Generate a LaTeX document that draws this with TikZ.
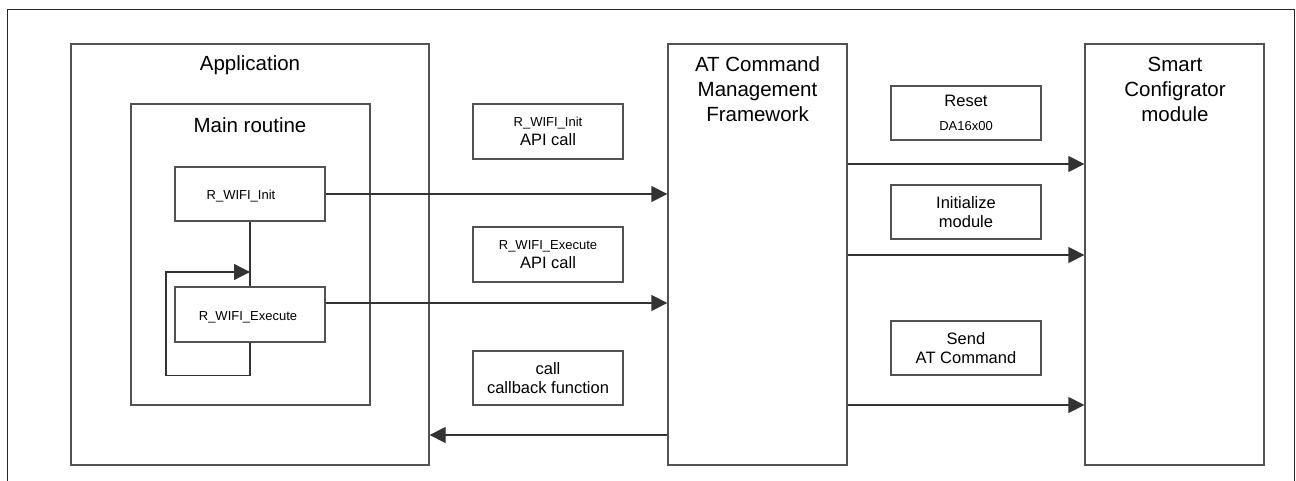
\documentclass[tikz,border=0pt]{standalone}
\usepackage{fontspec}
\setmainfont{Liberation Sans}
\usetikzlibrary{arrows.meta}

\begin{document}
\begin{tikzpicture}[x=1pt,y=-1pt,
  blk/.style={draw=black!68, line width=1.3pt, rectangle, inner sep=0pt},
  title/.style={align=center, inner sep=0pt, font=\fontsize{20.5}{25}\selectfont},
  lbl/.style={align=center, inner sep=0pt, font=\fontsize{16.5}{19.5}\selectfont},
  small/.style={inner sep=0pt, font=\fontsize{13}{15}\selectfont},
  wire/.style={draw=black!80, line width=1.3pt},
  arr/.style={wire, -{Triangle[length=16pt,width=16pt]}}
]
\useasboundingbox (0,0) rectangle (1296,481);

% page frame (open at the bottom)
\draw[black!85, line width=1pt] (7,481) -- (7,10) -- (1294,10) -- (1294,481);

% application side
\node[blk, minimum width=358pt, minimum height=421pt] (app) at (250,254.5) {};
\node[title] (apptitle) at (250,65) {Application};
\node[blk, minimum width=239pt, minimum height=301pt] (main) at (250.5,254.5) {};
\node[title] (maintitle) at (250,125) {Main routine};
\node[blk, minimum width=150pt, minimum height=54pt] (init) at (250,194) {};
\node[small] (inittext) at (241,196) {R\_WIFI\_Init};
\node[blk, minimum width=150pt, minimum height=55pt] (exec) at (250,314.5) {};
\node[small] (exectext) at (248,317) {R\_WIFI\_Execute};

% framework and module
\node[blk, minimum width=179pt, minimum height=421pt] (atf) at (757.5,254.5) {};
\node[title] (atftitle) at (757.5,89.5) {AT Command\\Management\\Framework};
\node[blk, minimum width=179pt, minimum height=421pt] (smart) at (1174.5,254.5) {};
\node[title] (smarttitle) at (1175,89.5) {Smart\\Configrator\\module};

% call labels
\node[blk, lbl, minimum width=150pt, minimum height=55pt] (l1) at (548,131.5)
  {{\fontsize{13}{15}\selectfont R\_WIFI\_Init}\\API call};
\node[blk, lbl, minimum width=150pt, minimum height=55pt] (l2) at (548,254.5)
  {{\fontsize{13}{15}\selectfont R\_WIFI\_Execute}\\API call};
\node[blk, lbl, minimum width=150pt, minimum height=54pt] (l3) at (548,378)
  {call\\callback function};
\node[blk, lbl, minimum width=150pt, minimum height=54pt] (r1) at (966,113)
  {Reset\\[5pt]{\fontsize{13}{15}\selectfont DA16x00}};
\node[blk, lbl, minimum width=150pt, minimum height=54pt] (r2) at (966,212)
  {Initialize\\module};
\node[blk, lbl, minimum width=150pt, minimum height=54pt] (r3) at (966,348)
  {Send\\AT Command};

% main routine flow
\draw[wire] (init.south) -- (exec.north);
\draw[arr] (exec.south) -- ++(0,33) -| (166,272) -- (exec.north |- 0,272);

% API calls into the framework
\draw[arr] (init.east) -- (atf.west |- init.east);
\draw[arr] (exec.east |- 0,303) -- (atf.west |- 0,303);
\draw[arr] (atf.west |- 0,435) -- (app.east |- 0,435);

% framework to module
\draw[arr] (atf.east |- 0,164) -- (smart.west |- 0,164);
\draw[arr] (atf.east |- 0,255) -- (smart.west |- 0,255);
\draw[arr] (atf.east |- 0,405) -- (smart.west |- 0,405);
\end{tikzpicture}
\end{document}
